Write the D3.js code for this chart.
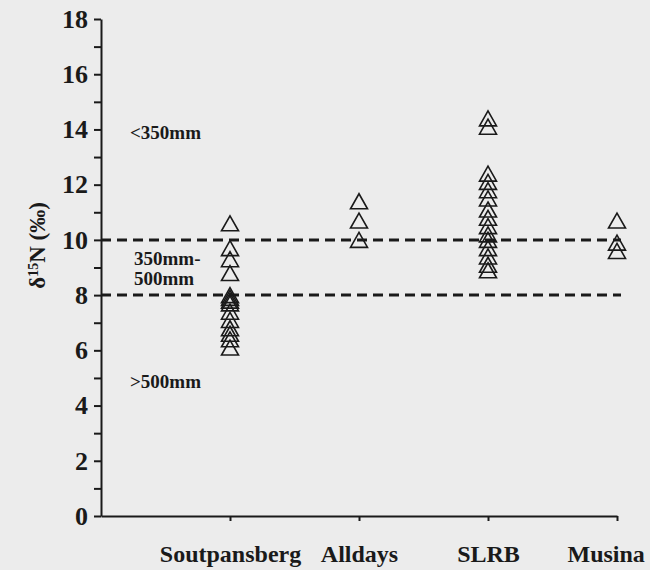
<!DOCTYPE html>
<html>
<head>
<meta charset="utf-8">
<script src="https://cdn.jsdelivr.net/npm/d3@7"></script>
<style>
body { margin: 0; background: #ececec; }
svg { display: block; background: #ececec; }
text { font-family: "Liberation Serif", "DejaVu Serif", serif; font-weight: bold; fill: #1a1a1a; }
</style>
</head>
<body>
<div id="chart"></div>
<script>
var categories = ["Soutpansberg", "Alldays", "SLRB", "Musina"];
var soutpansberg = [10.6, 9.7, 9.3, 8.8, 8.0, 7.9, 7.8, 7.7, 7.4, 7.1, 6.8, 6.6, 6.4, 6.1];
var alldays = [11.4, 10.7, 10.0];
var slrb = [14.4, 14.1, 12.4, 12.1, 11.8, 11.5, 11.1, 10.8, 10.5, 10.2, 10.0, 9.7, 9.4, 9.1, 8.9];
var musina = [10.7, 9.9, 9.6];
var thresholds = [10, 8];
var zoneLabels = [
	{ value: 13.9, lines: ["<350mm"] },
	{ value: 9.0, lines: ["350mm-", "500mm"] },
	{ value: 4.9, lines: [">500mm"] }
];
var yTicks = d3.range(0, 19, 1);

var width = 650, height = 570;
var margin = { top: 19, right: 33, bottom: 54, left: 101 };

var svg = d3.select("#chart").append("svg")
	.attr("width", width)
	.attr("height", height);

var x_scale = d3.scaleLinear()
	.domain([0, categories.length])
	.range([margin.left, width - margin.right]);
var y_scale = d3.scaleLinear()
	.domain([0, 18])
	.range([height - margin.bottom, margin.top]);

// dashed rainfall thresholds
svg.selectAll("line.threshold")
	.data(thresholds)
	.enter()
	.append("line")
	.attr("class", "threshold")
	.attr("x1", x_scale(0))
	.attr("x2", x_scale(categories.length) + 4)
	.attr("y1", function(d) { return y_scale(d); })
	.attr("y2", function(d) { return y_scale(d); })
	.attr("stroke", "#1a1a1a")
	.attr("stroke-width", 3)
	.attr("stroke-dasharray", "10,6");

// axes
var yAxis = d3.axisLeft(y_scale)
	.tickValues(yTicks)
	.tickSize(7)
	.tickSizeOuter(0)
	.tickPadding(6)
	.tickFormat(function(d) { return d % 2 == 0 ? d : ""; });
var gy = svg.append("g")
	.attr("transform", "translate(" + x_scale(0) + ",0)")
	.call(yAxis);
gy.selectAll("text")
	.attr("font-size", 26)
	.attr("font-family", null)
	.style("font-family", "'Liberation Serif', serif")
	.style("font-weight", "bold");

var xAxis = d3.axisBottom(x_scale)
	.tickValues([1, 2, 3, 4])
	.tickSize(5)
	.tickSizeOuter(0)
	.tickPadding(24)
	.tickFormat(function(d) { return categories[d - 1]; });
var gx = svg.append("g")
	.attr("transform", "translate(0," + y_scale(0) + ")")
	.call(xAxis);
gx.selectAll("text")
	.attr("font-size", 24)
	.attr("font-family", null)
	.style("font-family", "'Liberation Serif', serif")
	.style("font-weight", "bold");
// last label starts left of its tick and runs to the edge
gx.selectAll(".tick text")
	.attr("text-anchor", function(d) { return d == 4 ? "start" : "middle"; })
	.attr("x", function(d) { return d == 4 ? -50 : 0; });

svg.selectAll(".domain, .tick line")
	.attr("stroke", "#1a1a1a")
	.attr("stroke-width", 2);

// y axis title
svg.append("text")
	.attr("transform", "translate(45," + y_scale(9.8) + ") rotate(-90)")
	.attr("text-anchor", "middle")
	.attr("font-size", 23)
	.html("δ<tspan baseline-shift='super' font-size='14'>15</tspan>N (‰)");

// zone labels
zoneLabels.forEach(function(z) {
	var t = svg.append("text")
		.attr("x", 130)
		.attr("y", y_scale(z.value) - (z.lines.length - 1) * 10 + 7)
		.attr("font-size", 19);
	z.lines.forEach(function(l, i) {
		t.append("tspan")
			.attr("x", 130 + (z.lines.length > 1 ? 4 : 0))
			.attr("dy", i == 0 ? 0 : 20)
			.text(l);
	});
});

// triangle markers, centred on their box
var tw = 17, th = 15;
function triangle(cx, cy) {
	return "M" + cx + "," + (cy - th / 2) +
		"L" + (cx + tw / 2) + "," + (cy + th / 2) +
		"L" + (cx - tw / 2) + "," + (cy + th / 2) + "Z";
}
var series = [soutpansberg, alldays, slrb, musina];
series.forEach(function(values, i) {
	svg.selectAll("path.marker_" + i)
		.data(values)
		.enter()
		.append("path")
		.attr("class", "marker_" + i)
		.attr("d", function(d) { return triangle(x_scale(i + 1), y_scale(d)); })
		.attr("fill", "none")
		.attr("stroke", "#1a1a1a")
		.attr("stroke-width", 1.6);
});
</script>
</body>
</html>
